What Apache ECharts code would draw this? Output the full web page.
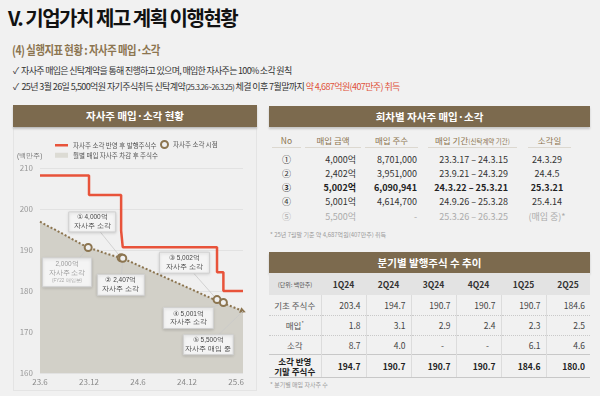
<!DOCTYPE html>
<html>
<head>
<meta charset="utf-8">
<script src="https://cdn.jsdelivr.net/npm/echarts@6/dist/echarts.min.js"></script>
<style>
body{margin:0;background:#f1f1f1;font-family:"Noto Sans CJK KR","Noto Sans",sans-serif;}
#page{position:relative;width:600px;height:396px;overflow:hidden;background:#f1f1f1;}
.abs{position:absolute;white-space:nowrap;}
.bar{position:absolute;background:#7c6a4e;color:#fff;font-weight:bold;font-size:10.5px;text-align:center;box-shadow:0 2px 2px rgba(0,0,0,0.18);}
#t2{position:absolute;left:269px;top:273px;width:321px;border-collapse:collapse;table-layout:fixed;font-size:8.5px;color:#444;}
#t2 td{padding:0;border-left:1px solid #dcdcdc;}
#t2 td:first-child{border-left:none;text-align:center;color:#555;}
#t2 tr.hd td{background:#e3e3e3;border-left:none;font-weight:bold;color:#333;text-align:center;height:22px;}
#t2 tr.r td{border-bottom:1px dotted #c9c9c9;text-align:right;padding-right:5px;}
#t2 tr.r td:first-child{padding-right:0;text-align:center;}
#t2 tr.last td{border-top:1px solid #c8c8c8;border-bottom:1px solid #c8c8c8;font-weight:bold;color:#222;text-align:right;padding-right:5px;height:22px;line-height:10px;}
#t2 tr.last td:first-child{padding-right:0;text-align:center;}
</style>
</head>
<body>
<div id="page">
  <div class="abs" style="left:8px;top:3px;font-size:20px;letter-spacing:-1.5px;font-weight:bold;color:#111;">V. 기업가치 제고 계획 이행현황</div>
  <div class="abs" style="left:12px;top:40px;font-size:12.5px;letter-spacing:-0.6px;font-weight:bold;color:#8c7550;transform:scaleX(0.83);transform-origin:0 0;">(4) 실행지표 현황 : 자사주 매입·소각</div>
  <div class="abs" style="left:13px;top:64px;font-size:9px;letter-spacing:-0.7px;color:#333;">✓&nbsp; 자사주 매입은 신탁계약을 통해 진행하고 있으며, 매입한 자사주는 100% 소각 원칙</div>
  <div class="abs" style="left:13px;top:80px;font-size:9px;letter-spacing:-0.6px;color:#333;">✓&nbsp; 25년 3월 26일 5,500억원 자기주식취득 신탁계약<span style="font-size:7.5px">(25.3.26~26.3.25)</span> 체결 이후 7월말까지 <span style="color:#e0523a">약 4,687억원(407만주) 취득</span></div>

  <div class="abs" style="left:13px;top:127px;width:242px;height:262px;border:1px solid #e4e4e4;background:#f0f0f0;"></div>
  <div class="bar" style="left:13px;top:105px;width:244px;height:22px;line-height:22px;">자사주 매입·소각 현황</div>
  <div id="chart" class="abs" style="left:13px;top:127px;width:244px;height:263px;"></div>

  <div class="bar" style="left:269px;top:106px;width:321px;height:21px;line-height:21px;">회차별 자사주 매입·소각</div>
  <div id="t1"></div>
  <div class="abs" style="left:270px;top:230px;font-size:6px;color:#9a9a9a;">* 25년 7월말 기준 약 4,687억원(407만주) 취득</div>

  <div class="bar" style="left:269px;top:252px;width:321px;height:21px;line-height:21px;">분기별 발행주식 수 추이</div>
  <table id="t2"></table>
  <div class="abs" style="left:270px;top:380px;font-size:6px;color:#9a9a9a;">* 분기별 매입 자사주 수</div>
</div>
<script>
// ---- 차트 데이터 (x = 23년 6월부터 경과 개월수)
var tickMonths = [0, 6, 12, 18, 24];
var tickLabels = ['23.6', '23.12', '24.6', '24.12', '25.6'];

// 자사주 소각 반영 후 발행주식수 (계단)
var stepMonths = [0, 6.0, 9.93, 10.13, 21.67, 22.45, 24.85];
var stepShares = [208.2, 203.4, 194.7, 190.7, 184.6, 180.0, 180.0];

// 월별 매입 자사주 차감 후 주식수
var remainMonths = [0, 1, 2, 3, 4, 5, 6, 7, 8, 9, 10, 11, 12, 13, 14, 15, 16, 17, 18, 19, 20, 21, 22, 23, 24, 24.85];
var remainShares = [196.9, 195.8, 194.8, 193.7, 192.6, 191.5, 190.5, 189.9, 189.2, 188.6, 188.0, 187.2, 186.3, 185.4, 184.5, 183.6, 182.7, 181.8, 180.9, 180.0, 179.1, 178.2, 177.4, 176.6, 175.8, 175.1];

// 자사주 소각 시점
var cancelMonths = [5.9, 9.93, 10.13, 21.67, 22.45];
var cancelShares = [190.6, 188.1, 188.0, 177.9, 177.2];

// 설명 박스
var noteTexts = [
  ['① 4,000억', '자사주 소각'],
  ['2,000억', '자사주 소각', '(FY22 매입분)'],
  ['② 2,407억', '자사주 소각'],
  ['③ 5,002억', '자사주 소각'],
  ['④ 5,001억', '자사주 소각'],
  ['⑤ 5,500억', '자사주 매입 중']
];
var noteTargetMonth = [9.93, 5.9, 10.13, 21.67, 22.45, 24.85];
var noteTargetShares = [188.1, 190.6, 188.0, 177.9, 177.2, 175.1];

// ---- 표 데이터
var roundNo = ['①', '②', '③', '④', '⑤'];
var buyAmount = ['4,000억', '2,402억', '5,002억', '5,001억', '5,500억'];
var buyShares = ['8,701,000', '3,951,000', '6,090,941', '4,614,700', '-'];
var buyPeriod = ['23.3.17 – 24.3.15', '23.9.21 – 24.3.29', '24.3.22 – 25.3.21', '24.9.26 – 25.3.28', '25.3.26 – 26.3.25'];
var cancelDate = ['24.3.29', '24.4.5', '25.3.21', '25.4.14', '(매입 중)*'];

var quarters = ['1Q24', '2Q24', '3Q24', '4Q24', '1Q25', '2Q25'];
var baseShares = [203.4, 194.7, 190.7, 190.7, 190.7, 184.6];
var boughtShares = [1.8, 3.1, 2.9, 2.4, 2.3, 2.5];
var burnedShares = [8.7, 4.0, null, null, 6.1, 4.6];
var endShares = [194.7, 190.7, 190.7, 190.7, 184.6, 180.0];

// 회차별 표
(function () {
  var cols = [
    {l: 272, w: 29, a: 'center'},
    {l: 305, w: 51, a: 'right', hl: 305, hw: 56},
    {l: 365, w: 52, a: 'right', hl: 365, hw: 53},
    {l: 428, w: 80, a: 'right', hl: 428, hw: 89},
    {l: 528, w: 38, a: 'center', hl: 528, hw: 43}
  ];
  var heads = ['No', '매입 금액', '매입 주수', '매입 기간<span style="font-size:6.5px">(신탁계약 기간)</span>', '소각일'];
  var rowsY = [159.5, 173.8, 188, 202.4, 217];
  var t1 = document.getElementById('t1');
  var html = '';
  cols.forEach(function (c, i) {
    var hl = c.hl || c.l, hw = c.hw || c.w;
    html += '<div class="abs" style="left:' + hl + 'px;top:134px;width:' + hw + 'px;text-align:center;font-size:8.5px;color:#8c7550;">' + heads[i] + '</div>';
    html += '<div class="abs" style="left:' + hl + 'px;top:147px;width:' + hw + 'px;height:0;border-top:1.5px solid #dcd8d0;"></div>';
  });
  var cells = [roundNo, buyAmount, buyShares, buyPeriod, cancelDate];
  for (var r = 0; r < 5; r++) {
    var st = r === 2 ? 'font-weight:bold;color:#222;' : (r === 4 ? 'color:#ababab;' : 'color:#333;');
    cols.forEach(function (c, i) {
      html += '<div class="abs" style="left:' + c.l + 'px;top:' + (rowsY[r] - 7) + 'px;width:' + c.w + 'px;text-align:' + c.a + ';font-size:9px;' + st + '">' + cells[i][r] + '</div>';
    });
  }
  t1.innerHTML = html;
})();

// 분기별 표
(function () {
  var fmt = function (v) { return v == null ? '-' : v.toFixed(1); };
  var widths = [52, 45, 45, 45, 45, 45, 44];
  var h = '<colgroup>' + widths.map(function (w) { return '<col style="width:' + w + 'px">'; }).join('') + '</colgroup>';
  h += '<tr class="hd"><td style="font-size:6px;font-weight:normal;color:#555">(단위: 백만주)</td>' + quarters.map(function (q) { return '<td>' + q + '</td>'; }).join('') + '</tr>';
  var rows = [['기초 주식수', baseShares, 20.5], ['매입<sup style="font-size:5px">*</sup>', boughtShares, 19.5], ['소각', burnedShares, 19]];
  rows.forEach(function (r) {
    h += '<tr class="r" style="height:' + r[2] + 'px"><td>' + r[0] + '</td>' + r[1].map(function (v) { return '<td' + (v == null ? ' style="text-align:center;padding-right:0;padding-left:18px"' : '') + '>' + fmt(v) + '</td>'; }).join('') + '</tr>';
  });
  h += '<tr class="last"><td>소각 반영<br>기말 주식수</td>' + endShares.map(function (v) { return '<td>' + fmt(v) + '</td>'; }).join('') + '</tr>';
  document.getElementById('t2').innerHTML = h;
})();

// ---- 차트
var noteBox = [
  {m: 6.39, v: 196.85, w: 47, h: 20},
  {m: 3.31, v: 184.55, w: 49, h: 29},
  {m: 9.90, v: 181.5, w: 47, h: 21},
  {m: 17.68, v: 186.9, w: 50, h: 21},
  {m: 18.16, v: 173.4, w: 50, h: 21},
  {m: 20.6, v: 166.9, w: 50, h: 20}
];
var noteData = noteBox.map(function (b, i) {
  return [b.m, b.v, noteTargetMonth[i], noteTargetShares[i], i];
});

var myChart = echarts.init(document.getElementById('chart'));
var brown = '#8c7550';
var lgText = {fontSize: 6.5, color: '#555'};
var option = {
  animation: false,
  textStyle: {fontFamily: '"Noto Sans CJK KR", sans-serif'},
  grid: {left: 27, right: 14, top: 41, bottom: 17},
  legend: [
    {
      left: 37, top: 10, itemWidth: 13, itemHeight: 2.5, textStyle: lgText,
      data: [{name: '자사주 소각 반영 후 발행주식수', icon: 'rect', itemStyle: {color: '#e8533a'}}]
    },
    {
      left: 142, top: 8, itemWidth: 7, itemHeight: 7, textStyle: lgText,
      data: [{name: '자사주 소각 시점', icon: 'circle', itemStyle: {color: '#f0f0f0', borderColor: brown, borderWidth: 2}}]
    },
    {
      left: 37, top: 20, itemWidth: 13, itemHeight: 5, textStyle: lgText,
      data: [{name: '월별 매입 자사주 차감 후 주식수', icon: 'rect', itemStyle: {color: '#dcdbd4'}}]
    }
  ],
  graphic: [{type: 'text', left: 4, top: 26, style: {text: '(백만주)', fontSize: 6.5, fill: '#777'}}],
  xAxis: {
    type: 'value', min: 0, max: 24.85, interval: 6,
    axisLine: {show: false}, axisTick: {show: false}, splitLine: {show: false},
    axisLabel: {
      fontSize: 8, color: '#888', margin: 5, showMaxLabel: false,
      formatter: function (v) { var i = tickMonths.indexOf(v); return i >= 0 ? tickLabels[i] : ''; }
    }
  },
  yAxis: {
    type: 'value', min: 160, max: 210, interval: 10,
    axisLine: {show: false}, axisTick: {show: false},
    axisLabel: {fontSize: 8, color: '#999', margin: 7},
    splitLine: {lineStyle: {color: '#e2e2e2', width: 1}}
  },
  series: [
    {
      name: '월별 매입 자사주 차감 후 주식수',
      type: 'line', symbol: 'none', showSymbol: true, z: 2,
      data: remainMonths.map(function (m, i) {
        var p = {value: [m, remainShares[i]]};
        if (i === remainMonths.length - 1) {
          p.symbol = 'triangle'; p.symbolSize = [6, 6]; p.symbolRotate = -112; p.itemStyle = {color: brown};
        }
        return p;
      }),
      lineStyle: {color: brown, width: 2, type: 'dotted'},
      itemStyle: {color: '#d2d0c8'},
      areaStyle: {color: '#d2d0c8', opacity: 1, origin: 'start'}
    },
    {
      name: '자사주 소각 반영 후 발행주식수',
      type: 'line', step: 'end', symbol: 'none', z: 3,
      data: stepMonths.map(function (m, i) { return [m, stepShares[i]]; }),
      lineStyle: {color: '#e8533a', width: 2.5},
      itemStyle: {color: '#e8533a'}
    },
    {
      name: '설명',
      type: 'custom', z: 4,
      data: noteData,
      renderItem: function (params, api) {
        var i = api.value(4);
        var b = noteBox[i];
        var c = api.coord([api.value(0), api.value(1)]);
        var t = api.coord([api.value(2), api.value(3)]);
        var lines = noteTexts[i];
        var grey = lines.length === 3;
        var txt = lines.map(function (s, k) { return k === 2 ? '{b|' + s + '}' : '{a|' + s + '}'; }).join('\n');
        return {
          type: 'group',
          children: [
            {type: 'line', shape: {x1: c[0], y1: c[1], x2: t[0], y2: t[1]}, style: {stroke: '#c9c9c9', lineWidth: 0.8}},
            {type: 'rect', shape: {x: c[0] - b.w / 2, y: c[1] - b.h / 2, width: b.w, height: b.h},
              style: {fill: '#f4f4f4', stroke: '#d0d0d0', lineWidth: 1, shadowBlur: 3, shadowColor: 'rgba(0,0,0,0.15)', shadowOffsetY: 1}},
            {type: 'text', x: c[0], y: c[1],
              style: {text: txt, align: 'center', verticalAlign: 'middle',
                rich: {a: {fontSize: 6.5, lineHeight: 8.5, fill: grey ? '#9a9a9a' : '#444'}, b: {fontSize: 4.5, lineHeight: 7, fill: '#aaa'}}}}
          ]
        };
      }
    },
    {
      name: '자사주 소각 시점',
      type: 'scatter', z: 5, symbol: 'circle', symbolSize: 7,
      data: cancelMonths.map(function (m, i) { return [m, cancelShares[i]]; }),
      itemStyle: {color: '#f0f0f0', borderColor: brown, borderWidth: 2, opacity: 1}
    }
  ]
};
myChart.setOption(option);
</script>
</body>
</html>
